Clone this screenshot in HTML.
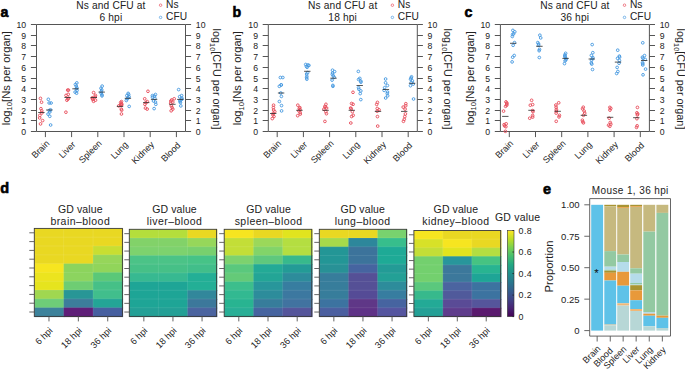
<!DOCTYPE html>
<html><head><meta charset="utf-8"><style>
html,body{margin:0;padding:0;background:#fff;width:685px;height:369px;overflow:hidden}
svg{display:block}
text{font-family:"Liberation Sans", sans-serif}
</style></head><body>
<svg width="685" height="369" viewBox="0 0 685 369">
<rect width="685" height="369" fill="#fff"/>
<g transform="translate(0,0)">
<text x="0.6" y="17.4" font-size="14.2" font-weight="bold" fill="#000" stroke="#000" stroke-width="0.6">a</text>
<text x="110.9" y="8.7" font-size="10.2" letter-spacing="0.15" text-anchor="middle" fill="#222">Ns and CFU at</text>
<text x="110.9" y="20.7" font-size="10.2" letter-spacing="0.15" text-anchor="middle" fill="#222">6 hpi</text>
<circle cx="160.6" cy="5.2" r="1.25" fill="none" stroke="#e8505e" stroke-width="0.7"/>
<circle cx="160.6" cy="17.4" r="1.25" fill="none" stroke="#4a9be0" stroke-width="0.7"/>
<text x="166.0" y="7.9" font-size="10.2" letter-spacing="0.1" fill="#222">Ns</text>
<text x="166.0" y="20.1" font-size="10.2" letter-spacing="0.1" fill="#222">CFU</text>
<path d="M36.5 24.5 V131.5 H185.5 V24.5 Z" fill="none" stroke="#555" stroke-width="1"/>
<path d="M30.9 131.5 H36.5 M185.5 131.5 H191.1 M30.9 120.5 H36.5 M185.5 120.5 H191.1 M30.9 110.5 H36.5 M185.5 110.5 H191.1 M30.9 99.5 H36.5 M185.5 99.5 H191.1 M30.9 88.5 H36.5 M185.5 88.5 H191.1 M30.9 78.5 H36.5 M185.5 78.5 H191.1 M30.9 67.5 H36.5 M185.5 67.5 H191.1 M30.9 56.5 H36.5 M185.5 56.5 H191.1 M30.9 45.5 H36.5 M185.5 45.5 H191.1 M30.9 35.5 H36.5 M185.5 35.5 H191.1 M30.9 24.5 H36.5 M185.5 24.5 H191.1 M45.4 131.5 V137.1 M71.6 131.5 V137.1 M97.8 131.5 V137.1 M124.0 131.5 V137.1 M150.2 131.5 V137.1 M176.4 131.5 V137.1" stroke="#555" stroke-width="1" fill="none"/>
<text x="26.2" y="134.9" font-size="8.7" text-anchor="end" fill="#222">0</text>
<text x="195.8" y="134.9" font-size="8.7" fill="#222">0</text>
<text x="26.2" y="123.9" font-size="8.7" text-anchor="end" fill="#222">1</text>
<text x="195.8" y="123.9" font-size="8.7" fill="#222">1</text>
<text x="26.2" y="113.9" font-size="8.7" text-anchor="end" fill="#222">2</text>
<text x="195.8" y="113.9" font-size="8.7" fill="#222">2</text>
<text x="26.2" y="102.9" font-size="8.7" text-anchor="end" fill="#222">3</text>
<text x="195.8" y="102.9" font-size="8.7" fill="#222">3</text>
<text x="26.2" y="91.9" font-size="8.7" text-anchor="end" fill="#222">4</text>
<text x="195.8" y="91.9" font-size="8.7" fill="#222">4</text>
<text x="26.2" y="81.9" font-size="8.7" text-anchor="end" fill="#222">5</text>
<text x="195.8" y="81.9" font-size="8.7" fill="#222">5</text>
<text x="26.2" y="70.9" font-size="8.7" text-anchor="end" fill="#222">6</text>
<text x="195.8" y="70.9" font-size="8.7" fill="#222">6</text>
<text x="26.2" y="59.9" font-size="8.7" text-anchor="end" fill="#222">7</text>
<text x="195.8" y="59.9" font-size="8.7" fill="#222">7</text>
<text x="26.2" y="48.9" font-size="8.7" text-anchor="end" fill="#222">8</text>
<text x="195.8" y="48.9" font-size="8.7" fill="#222">8</text>
<text x="26.2" y="38.9" font-size="8.7" text-anchor="end" fill="#222">9</text>
<text x="195.8" y="38.9" font-size="8.7" fill="#222">9</text>
<text x="26.2" y="27.9" font-size="8.7" text-anchor="end" fill="#222">10</text>
<text x="195.8" y="27.9" font-size="8.7" fill="#222">10</text>
<text transform="translate(50,144) rotate(-45)" font-size="9.0" text-anchor="end" fill="#222">Brain</text>
<text transform="translate(76.2,145) rotate(-45)" font-size="9.0" text-anchor="end" fill="#222">Liver</text>
<text transform="translate(102.4,144) rotate(-45)" font-size="9.0" text-anchor="end" fill="#222">Spleen</text>
<text transform="translate(128.6,145.3) rotate(-45)" font-size="9.0" text-anchor="end" fill="#222">Lung</text>
<text transform="translate(154.8,145) rotate(-45)" font-size="9.0" text-anchor="end" fill="#222">Kidney</text>
<text transform="translate(181,146) rotate(-45)" font-size="9.0" text-anchor="end" fill="#222">Blood</text>
<text transform="translate(9.6,78.2) rotate(-90)" font-size="11.2" text-anchor="middle" fill="#222">log<tspan font-size="7.6" dy="2.8">10</tspan><tspan dy="-2.8">[Ns per organ]</tspan></text>
<text transform="translate(212.6,79.0) rotate(90)" font-size="10.9" text-anchor="middle" fill="#222">log<tspan font-size="7.4" dy="2.8">10</tspan><tspan dy="-2.8">[CFU per organ]</tspan></text>
</g>
<g fill="none" stroke-width="0.95"><circle cx="40.46" cy="98.4" r="1.35" stroke="#e8505e"/><circle cx="41.56" cy="102.2" r="1.35" stroke="#e8505e"/><circle cx="40.93" cy="108.7" r="1.35" stroke="#e8505e"/><circle cx="41.77" cy="110.9" r="1.35" stroke="#e8505e"/><circle cx="41.85" cy="113" r="1.35" stroke="#e8505e"/><circle cx="39.84" cy="115.4" r="1.35" stroke="#e8505e"/><circle cx="39.65" cy="117.9" r="1.35" stroke="#e8505e"/><circle cx="42.61" cy="120.6" r="1.35" stroke="#e8505e"/><circle cx="40.53" cy="123.9" r="1.35" stroke="#e8505e"/><circle cx="48.34" cy="99.3" r="1.35" stroke="#4a9be0"/><circle cx="51.08" cy="103" r="1.35" stroke="#4a9be0"/><circle cx="49.19" cy="103" r="1.35" stroke="#4a9be0"/><circle cx="50.51" cy="109.8" r="1.35" stroke="#4a9be0"/><circle cx="49.21" cy="110.5" r="1.35" stroke="#4a9be0"/><circle cx="49.8" cy="112" r="1.35" stroke="#4a9be0"/><circle cx="48.04" cy="114.1" r="1.35" stroke="#4a9be0"/><circle cx="49.79" cy="116.3" r="1.35" stroke="#4a9be0"/><circle cx="50.62" cy="125" r="1.35" stroke="#4a9be0"/><circle cx="67.68" cy="90.1" r="1.35" stroke="#e8505e"/><circle cx="68.47" cy="90.1" r="1.35" stroke="#e8505e"/><circle cx="68.22" cy="94.3" r="1.35" stroke="#e8505e"/><circle cx="66.03" cy="95.4" r="1.35" stroke="#e8505e"/><circle cx="68.53" cy="98.1" r="1.35" stroke="#e8505e"/><circle cx="67.93" cy="99.1" r="1.35" stroke="#e8505e"/><circle cx="66.88" cy="100.2" r="1.35" stroke="#e8505e"/><circle cx="65.91" cy="112.2" r="1.35" stroke="#e8505e"/><circle cx="76.82" cy="82.9" r="1.35" stroke="#4a9be0"/><circle cx="75.4" cy="84.5" r="1.35" stroke="#4a9be0"/><circle cx="76.29" cy="86.1" r="1.35" stroke="#4a9be0"/><circle cx="76.86" cy="87.8" r="1.35" stroke="#4a9be0"/><circle cx="76.27" cy="88.8" r="1.35" stroke="#4a9be0"/><circle cx="77.02" cy="90.5" r="1.35" stroke="#4a9be0"/><circle cx="75.12" cy="92.1" r="1.35" stroke="#4a9be0"/><circle cx="76.58" cy="93.2" r="1.35" stroke="#4a9be0"/><circle cx="93.6" cy="92.6" r="1.35" stroke="#e8505e"/><circle cx="95.37" cy="95.4" r="1.35" stroke="#e8505e"/><circle cx="95.16" cy="97" r="1.35" stroke="#e8505e"/><circle cx="92.35" cy="97.8" r="1.35" stroke="#e8505e"/><circle cx="92.49" cy="98.6" r="1.35" stroke="#e8505e"/><circle cx="92.78" cy="99.5" r="1.35" stroke="#e8505e"/><circle cx="95.48" cy="100.2" r="1.35" stroke="#e8505e"/><circle cx="93.57" cy="101.3" r="1.35" stroke="#e8505e"/><circle cx="102.16" cy="86.1" r="1.35" stroke="#4a9be0"/><circle cx="100.98" cy="88.3" r="1.35" stroke="#4a9be0"/><circle cx="101.73" cy="89.9" r="1.35" stroke="#4a9be0"/><circle cx="101.29" cy="91.6" r="1.35" stroke="#4a9be0"/><circle cx="101.16" cy="93.2" r="1.35" stroke="#4a9be0"/><circle cx="102.01" cy="94.8" r="1.35" stroke="#4a9be0"/><circle cx="102" cy="95.9" r="1.35" stroke="#4a9be0"/><circle cx="121.46" cy="101.6" r="1.35" stroke="#e8505e"/><circle cx="120.66" cy="102.6" r="1.35" stroke="#e8505e"/><circle cx="121.54" cy="103.7" r="1.35" stroke="#e8505e"/><circle cx="121.28" cy="104.8" r="1.35" stroke="#e8505e"/><circle cx="121.77" cy="104.8" r="1.35" stroke="#e8505e"/><circle cx="120.62" cy="104.8" r="1.35" stroke="#e8505e"/><circle cx="118.79" cy="105.9" r="1.35" stroke="#e8505e"/><circle cx="121.3" cy="109.1" r="1.35" stroke="#e8505e"/><circle cx="121.67" cy="110.2" r="1.35" stroke="#e8505e"/><circle cx="121.46" cy="114" r="1.35" stroke="#e8505e"/><circle cx="128.15" cy="93.4" r="1.35" stroke="#4a9be0"/><circle cx="128.67" cy="94.5" r="1.35" stroke="#4a9be0"/><circle cx="126.86" cy="95.6" r="1.35" stroke="#4a9be0"/><circle cx="129.09" cy="96.7" r="1.35" stroke="#4a9be0"/><circle cx="128.16" cy="97.8" r="1.35" stroke="#4a9be0"/><circle cx="127.13" cy="98.8" r="1.35" stroke="#4a9be0"/><circle cx="126.33" cy="100.5" r="1.35" stroke="#4a9be0"/><circle cx="129.17" cy="106.4" r="1.35" stroke="#4a9be0"/><circle cx="147.96" cy="91.3" r="1.35" stroke="#e8505e"/><circle cx="144.72" cy="98.8" r="1.35" stroke="#e8505e"/><circle cx="147.28" cy="101.6" r="1.35" stroke="#e8505e"/><circle cx="145.88" cy="102.6" r="1.35" stroke="#e8505e"/><circle cx="144.94" cy="104.3" r="1.35" stroke="#e8505e"/><circle cx="145.46" cy="108.1" r="1.35" stroke="#e8505e"/><circle cx="147.17" cy="109.1" r="1.35" stroke="#e8505e"/><circle cx="155.44" cy="94.5" r="1.35" stroke="#4a9be0"/><circle cx="152.46" cy="95.6" r="1.35" stroke="#4a9be0"/><circle cx="154.51" cy="96.1" r="1.35" stroke="#4a9be0"/><circle cx="152.46" cy="97.2" r="1.35" stroke="#4a9be0"/><circle cx="154.89" cy="98.3" r="1.35" stroke="#4a9be0"/><circle cx="153.49" cy="101" r="1.35" stroke="#4a9be0"/><circle cx="155.47" cy="102.1" r="1.35" stroke="#4a9be0"/><circle cx="155.83" cy="104.3" r="1.35" stroke="#4a9be0"/><circle cx="154.12" cy="108.6" r="1.35" stroke="#4a9be0"/><circle cx="174.19" cy="98.8" r="1.35" stroke="#e8505e"/><circle cx="171.71" cy="99.9" r="1.35" stroke="#e8505e"/><circle cx="170.88" cy="101" r="1.35" stroke="#e8505e"/><circle cx="172.76" cy="102.1" r="1.35" stroke="#e8505e"/><circle cx="170.71" cy="103.2" r="1.35" stroke="#e8505e"/><circle cx="171.31" cy="105.9" r="1.35" stroke="#e8505e"/><circle cx="172.07" cy="107.5" r="1.35" stroke="#e8505e"/><circle cx="172.8" cy="109.1" r="1.35" stroke="#e8505e"/><circle cx="171.16" cy="110.8" r="1.35" stroke="#e8505e"/><circle cx="178.65" cy="89.6" r="1.35" stroke="#4a9be0"/><circle cx="181.62" cy="95.6" r="1.35" stroke="#4a9be0"/><circle cx="179.63" cy="96.7" r="1.35" stroke="#4a9be0"/><circle cx="181.95" cy="98.3" r="1.35" stroke="#4a9be0"/><circle cx="181.73" cy="99.4" r="1.35" stroke="#4a9be0"/><circle cx="179.86" cy="100.5" r="1.35" stroke="#4a9be0"/><circle cx="180.16" cy="101.5" r="1.35" stroke="#4a9be0"/><circle cx="180.37" cy="102.6" r="1.35" stroke="#4a9be0"/><circle cx="180.82" cy="105.9" r="1.35" stroke="#4a9be0"/></g>
<path d="M38.2 112.5 H44.6 M46.1 110 H52.5 M64.4 97.5 H70.8 M72.3 88.8 H78.7 M90.6 97.5 H97 M98.5 92.1 H104.9 M116.8 106.4 H123.2 M124.7 98.3 H131.1 M143 102.6 H149.4 M150.9 99.4 H157.3 M169.2 104.3 H175.6 M177.1 99.4 H183.5" stroke="#2a2a2a" stroke-width="0.8" fill="none"/>
<g transform="translate(231.8,0)">
<text x="0.6" y="17.4" font-size="14.2" font-weight="bold" fill="#000" stroke="#000" stroke-width="0.6">b</text>
<text x="110.9" y="8.7" font-size="10.2" letter-spacing="0.15" text-anchor="middle" fill="#222">Ns and CFU at</text>
<text x="110.9" y="20.7" font-size="10.2" letter-spacing="0.15" text-anchor="middle" fill="#222">18 hpi</text>
<circle cx="160.6" cy="5.2" r="1.25" fill="none" stroke="#e8505e" stroke-width="0.7"/>
<circle cx="160.6" cy="17.4" r="1.25" fill="none" stroke="#4a9be0" stroke-width="0.7"/>
<text x="166.0" y="7.9" font-size="10.2" letter-spacing="0.1" fill="#222">Ns</text>
<text x="166.0" y="20.1" font-size="10.2" letter-spacing="0.1" fill="#222">CFU</text>
<path d="M36.5 24.5 V131.5 H185.5 V24.5 Z" fill="none" stroke="#555" stroke-width="1"/>
<path d="M30.9 131.5 H36.5 M185.5 131.5 H191.1 M30.9 120.5 H36.5 M185.5 120.5 H191.1 M30.9 110.5 H36.5 M185.5 110.5 H191.1 M30.9 99.5 H36.5 M185.5 99.5 H191.1 M30.9 88.5 H36.5 M185.5 88.5 H191.1 M30.9 78.5 H36.5 M185.5 78.5 H191.1 M30.9 67.5 H36.5 M185.5 67.5 H191.1 M30.9 56.5 H36.5 M185.5 56.5 H191.1 M30.9 45.5 H36.5 M185.5 45.5 H191.1 M30.9 35.5 H36.5 M185.5 35.5 H191.1 M30.9 24.5 H36.5 M185.5 24.5 H191.1 M45.4 131.5 V137.1 M71.6 131.5 V137.1 M97.8 131.5 V137.1 M124.0 131.5 V137.1 M150.2 131.5 V137.1 M176.4 131.5 V137.1" stroke="#555" stroke-width="1" fill="none"/>
<text x="26.2" y="134.9" font-size="8.7" text-anchor="end" fill="#222">0</text>
<text x="195.8" y="134.9" font-size="8.7" fill="#222">0</text>
<text x="26.2" y="123.9" font-size="8.7" text-anchor="end" fill="#222">1</text>
<text x="195.8" y="123.9" font-size="8.7" fill="#222">1</text>
<text x="26.2" y="113.9" font-size="8.7" text-anchor="end" fill="#222">2</text>
<text x="195.8" y="113.9" font-size="8.7" fill="#222">2</text>
<text x="26.2" y="102.9" font-size="8.7" text-anchor="end" fill="#222">3</text>
<text x="195.8" y="102.9" font-size="8.7" fill="#222">3</text>
<text x="26.2" y="91.9" font-size="8.7" text-anchor="end" fill="#222">4</text>
<text x="195.8" y="91.9" font-size="8.7" fill="#222">4</text>
<text x="26.2" y="81.9" font-size="8.7" text-anchor="end" fill="#222">5</text>
<text x="195.8" y="81.9" font-size="8.7" fill="#222">5</text>
<text x="26.2" y="70.9" font-size="8.7" text-anchor="end" fill="#222">6</text>
<text x="195.8" y="70.9" font-size="8.7" fill="#222">6</text>
<text x="26.2" y="59.9" font-size="8.7" text-anchor="end" fill="#222">7</text>
<text x="195.8" y="59.9" font-size="8.7" fill="#222">7</text>
<text x="26.2" y="48.9" font-size="8.7" text-anchor="end" fill="#222">8</text>
<text x="195.8" y="48.9" font-size="8.7" fill="#222">8</text>
<text x="26.2" y="38.9" font-size="8.7" text-anchor="end" fill="#222">9</text>
<text x="195.8" y="38.9" font-size="8.7" fill="#222">9</text>
<text x="26.2" y="27.9" font-size="8.7" text-anchor="end" fill="#222">10</text>
<text x="195.8" y="27.9" font-size="8.7" fill="#222">10</text>
<text transform="translate(50,144) rotate(-45)" font-size="9.0" text-anchor="end" fill="#222">Brain</text>
<text transform="translate(76.2,145) rotate(-45)" font-size="9.0" text-anchor="end" fill="#222">Liver</text>
<text transform="translate(102.4,144) rotate(-45)" font-size="9.0" text-anchor="end" fill="#222">Spleen</text>
<text transform="translate(128.6,145.3) rotate(-45)" font-size="9.0" text-anchor="end" fill="#222">Lung</text>
<text transform="translate(154.8,145) rotate(-45)" font-size="9.0" text-anchor="end" fill="#222">Kidney</text>
<text transform="translate(181,146) rotate(-45)" font-size="9.0" text-anchor="end" fill="#222">Blood</text>
<text transform="translate(9.6,78.2) rotate(-90)" font-size="11.2" text-anchor="middle" fill="#222">log<tspan font-size="7.6" dy="2.8">10</tspan><tspan dy="-2.8">[Ns per organ]</tspan></text>
<text transform="translate(212.6,79.0) rotate(90)" font-size="10.9" text-anchor="middle" fill="#222">log<tspan font-size="7.4" dy="2.8">10</tspan><tspan dy="-2.8">[CFU per organ]</tspan></text>
</g>
<g fill="none" stroke-width="0.95"><circle cx="273.54" cy="105.2" r="1.35" stroke="#e8505e"/><circle cx="273.41" cy="107.6" r="1.35" stroke="#e8505e"/><circle cx="273.63" cy="110" r="1.35" stroke="#e8505e"/><circle cx="274.79" cy="111.7" r="1.35" stroke="#e8505e"/><circle cx="273.23" cy="113.3" r="1.35" stroke="#e8505e"/><circle cx="272.95" cy="114.9" r="1.35" stroke="#e8505e"/><circle cx="273.99" cy="116.5" r="1.35" stroke="#e8505e"/><circle cx="272.26" cy="118.6" r="1.35" stroke="#e8505e"/><circle cx="280.38" cy="77.5" r="1.35" stroke="#4a9be0"/><circle cx="282.82" cy="77.5" r="1.35" stroke="#4a9be0"/><circle cx="281.18" cy="84.9" r="1.35" stroke="#4a9be0"/><circle cx="281.27" cy="84.9" r="1.35" stroke="#4a9be0"/><circle cx="279.34" cy="86.3" r="1.35" stroke="#4a9be0"/><circle cx="280.79" cy="93" r="1.35" stroke="#4a9be0"/><circle cx="281.39" cy="96.4" r="1.35" stroke="#4a9be0"/><circle cx="279.37" cy="101.5" r="1.35" stroke="#4a9be0"/><circle cx="281.52" cy="105.6" r="1.35" stroke="#4a9be0"/><circle cx="281.58" cy="110.9" r="1.35" stroke="#4a9be0"/><circle cx="297.82" cy="105.2" r="1.35" stroke="#e8505e"/><circle cx="299.86" cy="107.6" r="1.35" stroke="#e8505e"/><circle cx="299.28" cy="108.4" r="1.35" stroke="#e8505e"/><circle cx="300.05" cy="109.6" r="1.35" stroke="#e8505e"/><circle cx="298.87" cy="110.9" r="1.35" stroke="#e8505e"/><circle cx="300.15" cy="112.5" r="1.35" stroke="#e8505e"/><circle cx="300.26" cy="114.1" r="1.35" stroke="#e8505e"/><circle cx="297.68" cy="115.7" r="1.35" stroke="#e8505e"/><circle cx="305.72" cy="64.5" r="1.35" stroke="#4a9be0"/><circle cx="307.93" cy="65" r="1.35" stroke="#4a9be0"/><circle cx="308.97" cy="65.4" r="1.35" stroke="#4a9be0"/><circle cx="306.4" cy="66.4" r="1.35" stroke="#4a9be0"/><circle cx="307.14" cy="67.3" r="1.35" stroke="#4a9be0"/><circle cx="307.63" cy="72.6" r="1.35" stroke="#4a9be0"/><circle cx="306.65" cy="74" r="1.35" stroke="#4a9be0"/><circle cx="306.81" cy="76.3" r="1.35" stroke="#4a9be0"/><circle cx="306.63" cy="77.8" r="1.35" stroke="#4a9be0"/><circle cx="306.83" cy="79.2" r="1.35" stroke="#4a9be0"/><circle cx="325.94" cy="104.3" r="1.35" stroke="#e8505e"/><circle cx="324.88" cy="106.4" r="1.35" stroke="#e8505e"/><circle cx="325.16" cy="107.2" r="1.35" stroke="#e8505e"/><circle cx="326.58" cy="108" r="1.35" stroke="#e8505e"/><circle cx="323.9" cy="109.2" r="1.35" stroke="#e8505e"/><circle cx="325.85" cy="111.7" r="1.35" stroke="#e8505e"/><circle cx="326.45" cy="113.7" r="1.35" stroke="#e8505e"/><circle cx="324.92" cy="121.4" r="1.35" stroke="#e8505e"/><circle cx="332.5" cy="70.2" r="1.35" stroke="#4a9be0"/><circle cx="334.59" cy="71.6" r="1.35" stroke="#4a9be0"/><circle cx="332.56" cy="73" r="1.35" stroke="#4a9be0"/><circle cx="332.37" cy="74.4" r="1.35" stroke="#4a9be0"/><circle cx="333.27" cy="75.9" r="1.35" stroke="#4a9be0"/><circle cx="334.21" cy="77.3" r="1.35" stroke="#4a9be0"/><circle cx="332.07" cy="80.1" r="1.35" stroke="#4a9be0"/><circle cx="332.86" cy="85.4" r="1.35" stroke="#4a9be0"/><circle cx="332.9" cy="86.3" r="1.35" stroke="#4a9be0"/><circle cx="353" cy="92.3" r="1.35" stroke="#e8505e"/><circle cx="351.58" cy="103.5" r="1.35" stroke="#e8505e"/><circle cx="353.08" cy="104.3" r="1.35" stroke="#e8505e"/><circle cx="350.61" cy="108" r="1.35" stroke="#e8505e"/><circle cx="351.21" cy="108.8" r="1.35" stroke="#e8505e"/><circle cx="352.34" cy="111.7" r="1.35" stroke="#e8505e"/><circle cx="353.19" cy="115.3" r="1.35" stroke="#e8505e"/><circle cx="351.62" cy="116.5" r="1.35" stroke="#e8505e"/><circle cx="350.81" cy="123" r="1.35" stroke="#e8505e"/><circle cx="358.34" cy="71.4" r="1.35" stroke="#4a9be0"/><circle cx="359.81" cy="78.4" r="1.35" stroke="#4a9be0"/><circle cx="358.59" cy="79.5" r="1.35" stroke="#4a9be0"/><circle cx="360.8" cy="81.1" r="1.35" stroke="#4a9be0"/><circle cx="360.92" cy="82.2" r="1.35" stroke="#4a9be0"/><circle cx="358.56" cy="87.7" r="1.35" stroke="#4a9be0"/><circle cx="358.9" cy="89.3" r="1.35" stroke="#4a9be0"/><circle cx="360.81" cy="90.9" r="1.35" stroke="#4a9be0"/><circle cx="360.21" cy="93.6" r="1.35" stroke="#4a9be0"/><circle cx="360.8" cy="99.6" r="1.35" stroke="#4a9be0"/><circle cx="377.44" cy="102.4" r="1.35" stroke="#e8505e"/><circle cx="376.67" cy="104.4" r="1.35" stroke="#e8505e"/><circle cx="377.25" cy="108.5" r="1.35" stroke="#e8505e"/><circle cx="379.06" cy="109.8" r="1.35" stroke="#e8505e"/><circle cx="377.18" cy="111.2" r="1.35" stroke="#e8505e"/><circle cx="377.45" cy="116.6" r="1.35" stroke="#e8505e"/><circle cx="377.7" cy="126.1" r="1.35" stroke="#e8505e"/><circle cx="385.61" cy="79" r="1.35" stroke="#4a9be0"/><circle cx="385.57" cy="82.8" r="1.35" stroke="#4a9be0"/><circle cx="387.41" cy="85.5" r="1.35" stroke="#4a9be0"/><circle cx="384.66" cy="87.7" r="1.35" stroke="#4a9be0"/><circle cx="384.12" cy="90.4" r="1.35" stroke="#4a9be0"/><circle cx="387.5" cy="92" r="1.35" stroke="#4a9be0"/><circle cx="387.27" cy="93.6" r="1.35" stroke="#4a9be0"/><circle cx="387.65" cy="95.8" r="1.35" stroke="#4a9be0"/><circle cx="385.66" cy="98" r="1.35" stroke="#4a9be0"/><circle cx="405.82" cy="103.7" r="1.35" stroke="#e8505e"/><circle cx="405.74" cy="105.7" r="1.35" stroke="#e8505e"/><circle cx="403.2" cy="107.1" r="1.35" stroke="#e8505e"/><circle cx="405.08" cy="109.1" r="1.35" stroke="#e8505e"/><circle cx="405.41" cy="113.9" r="1.35" stroke="#e8505e"/><circle cx="404.79" cy="116.6" r="1.35" stroke="#e8505e"/><circle cx="404.27" cy="119.3" r="1.35" stroke="#e8505e"/><circle cx="403.44" cy="121.3" r="1.35" stroke="#e8505e"/><circle cx="411.53" cy="76.8" r="1.35" stroke="#4a9be0"/><circle cx="411.12" cy="78" r="1.35" stroke="#4a9be0"/><circle cx="410.55" cy="79.2" r="1.35" stroke="#4a9be0"/><circle cx="412.42" cy="80.9" r="1.35" stroke="#4a9be0"/><circle cx="411.33" cy="82.5" r="1.35" stroke="#4a9be0"/><circle cx="413.22" cy="84.1" r="1.35" stroke="#4a9be0"/><circle cx="410.46" cy="85.7" r="1.35" stroke="#4a9be0"/><circle cx="413.55" cy="99" r="1.35" stroke="#4a9be0"/></g>
<path d="M270 113.5 H276.4 M277.9 93 H284.3 M296.2 110.3 H302.6 M304.1 71.3 H310.5 M322.4 110.3 H328.8 M330.3 78.2 H336.7 M348.6 110.3 H355 M356.5 85.5 H362.9 M374.8 111.4 H381.2 M382.7 89.5 H389.1 M401 111.4 H407.4 M408.9 83.3 H415.3" stroke="#2a2a2a" stroke-width="0.8" fill="none"/>
<g transform="translate(463.9,0)">
<text x="0.6" y="17.4" font-size="14.2" font-weight="bold" fill="#000" stroke="#000" stroke-width="0.6">c</text>
<text x="110.9" y="8.7" font-size="10.2" letter-spacing="0.15" text-anchor="middle" fill="#222">Ns and CFU at</text>
<text x="110.9" y="20.7" font-size="10.2" letter-spacing="0.15" text-anchor="middle" fill="#222">36 hpi</text>
<circle cx="160.6" cy="5.2" r="1.25" fill="none" stroke="#e8505e" stroke-width="0.7"/>
<circle cx="160.6" cy="17.4" r="1.25" fill="none" stroke="#4a9be0" stroke-width="0.7"/>
<text x="166.0" y="7.9" font-size="10.2" letter-spacing="0.1" fill="#222">Ns</text>
<text x="166.0" y="20.1" font-size="10.2" letter-spacing="0.1" fill="#222">CFU</text>
<path d="M36.5 24.5 V131.5 H185.5 V24.5 Z" fill="none" stroke="#555" stroke-width="1"/>
<path d="M30.9 131.5 H36.5 M185.5 131.5 H191.1 M30.9 120.5 H36.5 M185.5 120.5 H191.1 M30.9 110.5 H36.5 M185.5 110.5 H191.1 M30.9 99.5 H36.5 M185.5 99.5 H191.1 M30.9 88.5 H36.5 M185.5 88.5 H191.1 M30.9 78.5 H36.5 M185.5 78.5 H191.1 M30.9 67.5 H36.5 M185.5 67.5 H191.1 M30.9 56.5 H36.5 M185.5 56.5 H191.1 M30.9 45.5 H36.5 M185.5 45.5 H191.1 M30.9 35.5 H36.5 M185.5 35.5 H191.1 M30.9 24.5 H36.5 M185.5 24.5 H191.1 M45.4 131.5 V137.1 M71.6 131.5 V137.1 M97.8 131.5 V137.1 M124.0 131.5 V137.1 M150.2 131.5 V137.1 M176.4 131.5 V137.1" stroke="#555" stroke-width="1" fill="none"/>
<text x="26.2" y="134.9" font-size="8.7" text-anchor="end" fill="#222">0</text>
<text x="195.8" y="134.9" font-size="8.7" fill="#222">0</text>
<text x="26.2" y="123.9" font-size="8.7" text-anchor="end" fill="#222">1</text>
<text x="195.8" y="123.9" font-size="8.7" fill="#222">1</text>
<text x="26.2" y="113.9" font-size="8.7" text-anchor="end" fill="#222">2</text>
<text x="195.8" y="113.9" font-size="8.7" fill="#222">2</text>
<text x="26.2" y="102.9" font-size="8.7" text-anchor="end" fill="#222">3</text>
<text x="195.8" y="102.9" font-size="8.7" fill="#222">3</text>
<text x="26.2" y="91.9" font-size="8.7" text-anchor="end" fill="#222">4</text>
<text x="195.8" y="91.9" font-size="8.7" fill="#222">4</text>
<text x="26.2" y="81.9" font-size="8.7" text-anchor="end" fill="#222">5</text>
<text x="195.8" y="81.9" font-size="8.7" fill="#222">5</text>
<text x="26.2" y="70.9" font-size="8.7" text-anchor="end" fill="#222">6</text>
<text x="195.8" y="70.9" font-size="8.7" fill="#222">6</text>
<text x="26.2" y="59.9" font-size="8.7" text-anchor="end" fill="#222">7</text>
<text x="195.8" y="59.9" font-size="8.7" fill="#222">7</text>
<text x="26.2" y="48.9" font-size="8.7" text-anchor="end" fill="#222">8</text>
<text x="195.8" y="48.9" font-size="8.7" fill="#222">8</text>
<text x="26.2" y="38.9" font-size="8.7" text-anchor="end" fill="#222">9</text>
<text x="195.8" y="38.9" font-size="8.7" fill="#222">9</text>
<text x="26.2" y="27.9" font-size="8.7" text-anchor="end" fill="#222">10</text>
<text x="195.8" y="27.9" font-size="8.7" fill="#222">10</text>
<text transform="translate(50,144) rotate(-45)" font-size="9.0" text-anchor="end" fill="#222">Brain</text>
<text transform="translate(76.2,145) rotate(-45)" font-size="9.0" text-anchor="end" fill="#222">Liver</text>
<text transform="translate(102.4,144) rotate(-45)" font-size="9.0" text-anchor="end" fill="#222">Spleen</text>
<text transform="translate(128.6,145.3) rotate(-45)" font-size="9.0" text-anchor="end" fill="#222">Lung</text>
<text transform="translate(154.8,145) rotate(-45)" font-size="9.0" text-anchor="end" fill="#222">Kidney</text>
<text transform="translate(181,146) rotate(-45)" font-size="9.0" text-anchor="end" fill="#222">Blood</text>
<text transform="translate(9.6,78.2) rotate(-90)" font-size="11.2" text-anchor="middle" fill="#222">log<tspan font-size="7.6" dy="2.8">10</tspan><tspan dy="-2.8">[Ns per organ]</tspan></text>
<text transform="translate(212.6,79.0) rotate(90)" font-size="10.9" text-anchor="middle" fill="#222">log<tspan font-size="7.4" dy="2.8">10</tspan><tspan dy="-2.8">[CFU per organ]</tspan></text>
</g>
<g fill="none" stroke-width="0.95"><circle cx="506" cy="101.9" r="1.35" stroke="#e8505e"/><circle cx="506.83" cy="103" r="1.35" stroke="#e8505e"/><circle cx="506.73" cy="104.1" r="1.35" stroke="#e8505e"/><circle cx="506.74" cy="105.2" r="1.35" stroke="#e8505e"/><circle cx="505.58" cy="106.3" r="1.35" stroke="#e8505e"/><circle cx="503.55" cy="111.1" r="1.35" stroke="#e8505e"/><circle cx="506.18" cy="123.8" r="1.35" stroke="#e8505e"/><circle cx="504.12" cy="124.6" r="1.35" stroke="#e8505e"/><circle cx="504.58" cy="125.9" r="1.35" stroke="#e8505e"/><circle cx="505.89" cy="126.7" r="1.35" stroke="#e8505e"/><circle cx="505.39" cy="131.3" r="1.35" stroke="#e8505e"/><circle cx="512.89" cy="30.4" r="1.35" stroke="#4a9be0"/><circle cx="514.78" cy="31.8" r="1.35" stroke="#4a9be0"/><circle cx="513.6" cy="33.8" r="1.35" stroke="#4a9be0"/><circle cx="512.63" cy="34.5" r="1.35" stroke="#4a9be0"/><circle cx="512.31" cy="36.5" r="1.35" stroke="#4a9be0"/><circle cx="514.5" cy="42.6" r="1.35" stroke="#4a9be0"/><circle cx="513.12" cy="45.3" r="1.35" stroke="#4a9be0"/><circle cx="514.22" cy="55.5" r="1.35" stroke="#4a9be0"/><circle cx="512.67" cy="57.2" r="1.35" stroke="#4a9be0"/><circle cx="512.11" cy="61.9" r="1.35" stroke="#4a9be0"/><circle cx="531.62" cy="100.3" r="1.35" stroke="#e8505e"/><circle cx="532.64" cy="104.6" r="1.35" stroke="#e8505e"/><circle cx="530.32" cy="105.2" r="1.35" stroke="#e8505e"/><circle cx="532.55" cy="110.6" r="1.35" stroke="#e8505e"/><circle cx="533.02" cy="111.7" r="1.35" stroke="#e8505e"/><circle cx="532.6" cy="115.5" r="1.35" stroke="#e8505e"/><circle cx="532.66" cy="117.1" r="1.35" stroke="#e8505e"/><circle cx="529.73" cy="118.2" r="1.35" stroke="#e8505e"/><circle cx="539.86" cy="35.2" r="1.35" stroke="#4a9be0"/><circle cx="540.71" cy="37.9" r="1.35" stroke="#4a9be0"/><circle cx="537.78" cy="42.6" r="1.35" stroke="#4a9be0"/><circle cx="538.58" cy="44" r="1.35" stroke="#4a9be0"/><circle cx="538.57" cy="45.3" r="1.35" stroke="#4a9be0"/><circle cx="539.5" cy="49.4" r="1.35" stroke="#4a9be0"/><circle cx="539.12" cy="50.7" r="1.35" stroke="#4a9be0"/><circle cx="539.3" cy="57.5" r="1.35" stroke="#4a9be0"/><circle cx="558.7" cy="102.8" r="1.35" stroke="#e8505e"/><circle cx="555.91" cy="105" r="1.35" stroke="#e8505e"/><circle cx="556.1" cy="107.2" r="1.35" stroke="#e8505e"/><circle cx="556.36" cy="109.4" r="1.35" stroke="#e8505e"/><circle cx="556.35" cy="111" r="1.35" stroke="#e8505e"/><circle cx="556.15" cy="113.1" r="1.35" stroke="#e8505e"/><circle cx="559.41" cy="115.3" r="1.35" stroke="#e8505e"/><circle cx="558.98" cy="116.9" r="1.35" stroke="#e8505e"/><circle cx="556.21" cy="121.3" r="1.35" stroke="#e8505e"/><circle cx="565.61" cy="53.3" r="1.35" stroke="#4a9be0"/><circle cx="564.94" cy="54.9" r="1.35" stroke="#4a9be0"/><circle cx="564.93" cy="56" r="1.35" stroke="#4a9be0"/><circle cx="565.06" cy="57" r="1.35" stroke="#4a9be0"/><circle cx="566.13" cy="58.7" r="1.35" stroke="#4a9be0"/><circle cx="565.91" cy="59.8" r="1.35" stroke="#4a9be0"/><circle cx="565.1" cy="60.8" r="1.35" stroke="#4a9be0"/><circle cx="564.49" cy="63.6" r="1.35" stroke="#4a9be0"/><circle cx="583.28" cy="107.2" r="1.35" stroke="#e8505e"/><circle cx="582.55" cy="108.8" r="1.35" stroke="#e8505e"/><circle cx="584.1" cy="111" r="1.35" stroke="#e8505e"/><circle cx="584.68" cy="113.1" r="1.35" stroke="#e8505e"/><circle cx="583.47" cy="115.3" r="1.35" stroke="#e8505e"/><circle cx="582.39" cy="120.2" r="1.35" stroke="#e8505e"/><circle cx="582.74" cy="121.8" r="1.35" stroke="#e8505e"/><circle cx="583.44" cy="122.9" r="1.35" stroke="#e8505e"/><circle cx="592.18" cy="44.6" r="1.35" stroke="#4a9be0"/><circle cx="592.82" cy="52.7" r="1.35" stroke="#4a9be0"/><circle cx="591.37" cy="55.4" r="1.35" stroke="#4a9be0"/><circle cx="592.88" cy="57.6" r="1.35" stroke="#4a9be0"/><circle cx="592.24" cy="58.7" r="1.35" stroke="#4a9be0"/><circle cx="591.55" cy="60.3" r="1.35" stroke="#4a9be0"/><circle cx="591.34" cy="63" r="1.35" stroke="#4a9be0"/><circle cx="591.79" cy="64.1" r="1.35" stroke="#4a9be0"/><circle cx="592.53" cy="69.5" r="1.35" stroke="#4a9be0"/><circle cx="609.81" cy="107.4" r="1.35" stroke="#e8505e"/><circle cx="610.8" cy="108.4" r="1.35" stroke="#e8505e"/><circle cx="609.96" cy="110.1" r="1.35" stroke="#e8505e"/><circle cx="609.18" cy="118.2" r="1.35" stroke="#e8505e"/><circle cx="610.23" cy="122.5" r="1.35" stroke="#e8505e"/><circle cx="610.8" cy="124.2" r="1.35" stroke="#e8505e"/><circle cx="608.56" cy="125.2" r="1.35" stroke="#e8505e"/><circle cx="609.83" cy="126.3" r="1.35" stroke="#e8505e"/><circle cx="617.73" cy="50.2" r="1.35" stroke="#4a9be0"/><circle cx="619.37" cy="56.1" r="1.35" stroke="#4a9be0"/><circle cx="619.57" cy="57.2" r="1.35" stroke="#4a9be0"/><circle cx="617.55" cy="58.3" r="1.35" stroke="#4a9be0"/><circle cx="619.43" cy="60.5" r="1.35" stroke="#4a9be0"/><circle cx="619.05" cy="63.2" r="1.35" stroke="#4a9be0"/><circle cx="617.14" cy="67.4" r="1.35" stroke="#4a9be0"/><circle cx="617.87" cy="71.5" r="1.35" stroke="#4a9be0"/><circle cx="616.64" cy="73.5" r="1.35" stroke="#4a9be0"/><circle cx="637.43" cy="107.4" r="1.35" stroke="#e8505e"/><circle cx="636.88" cy="112.8" r="1.35" stroke="#e8505e"/><circle cx="637.69" cy="113.9" r="1.35" stroke="#e8505e"/><circle cx="637.35" cy="114.9" r="1.35" stroke="#e8505e"/><circle cx="636.9" cy="118.7" r="1.35" stroke="#e8505e"/><circle cx="637.14" cy="125.8" r="1.35" stroke="#e8505e"/><circle cx="636.53" cy="127.4" r="1.35" stroke="#e8505e"/><circle cx="642.77" cy="42.8" r="1.35" stroke="#4a9be0"/><circle cx="644.52" cy="55.6" r="1.35" stroke="#4a9be0"/><circle cx="642.42" cy="57.2" r="1.35" stroke="#4a9be0"/><circle cx="642.92" cy="58.3" r="1.35" stroke="#4a9be0"/><circle cx="645.19" cy="59.4" r="1.35" stroke="#4a9be0"/><circle cx="642.56" cy="62.7" r="1.35" stroke="#4a9be0"/><circle cx="642.73" cy="63.7" r="1.35" stroke="#4a9be0"/><circle cx="642.76" cy="65" r="1.35" stroke="#4a9be0"/><circle cx="645.57" cy="69.1" r="1.35" stroke="#4a9be0"/><circle cx="643.04" cy="74.8" r="1.35" stroke="#4a9be0"/></g>
<path d="M502.1 116.4 H508.5 M510 43.3 H516.4 M528.3 110.3 H534.7 M536.2 46.3 H542.6 M554.5 111.3 H560.9 M562.4 58.4 H568.8 M580.7 115.3 H587.1 M588.6 59 H595 M606.9 117.3 H613.3 M614.8 62.1 H621.2 M633.1 117.7 H639.5 M641 60.5 H647.4" stroke="#2a2a2a" stroke-width="0.8" fill="none"/>
<text x="0.2" y="193.2" font-size="14.5" font-weight="bold" fill="#000" stroke="#000" stroke-width="0.6">d</text>
<text x="80.3" y="212.9" font-size="10.5" letter-spacing="0.1" text-anchor="middle" fill="#222">GD value</text>
<text x="80.3" y="224.8" font-size="10.5" letter-spacing="0.45" text-anchor="middle" fill="#222">brain–blood</text>
<g><rect x="34.3" y="228.4" width="30.07" height="9.5" fill="#e9d822"/><rect x="63.67" y="228.4" width="30.07" height="9.5" fill="#e9d822"/><rect x="93.03" y="228.4" width="30.07" height="9.5" fill="#e9d822"/><rect x="34.3" y="237.2" width="30.07" height="9.5" fill="#e9d822"/><rect x="63.67" y="237.2" width="30.07" height="9.5" fill="#e9d822"/><rect x="93.03" y="237.2" width="30.07" height="9.5" fill="#e9d822"/><rect x="34.3" y="246" width="30.07" height="9.5" fill="#e9d822"/><rect x="63.67" y="246" width="30.07" height="9.5" fill="#e9d822"/><rect x="93.03" y="246" width="30.07" height="9.5" fill="#c8de32"/><rect x="34.3" y="254.8" width="30.07" height="9.5" fill="#e9d822"/><rect x="63.67" y="254.8" width="30.07" height="9.5" fill="#e9d822"/><rect x="93.03" y="254.8" width="30.07" height="9.5" fill="#96d65a"/><rect x="34.3" y="263.6" width="30.07" height="9.5" fill="#f6e520"/><rect x="63.67" y="263.6" width="30.07" height="9.5" fill="#8cd45c"/><rect x="93.03" y="263.6" width="30.07" height="9.5" fill="#91d55a"/><rect x="34.3" y="272.4" width="30.07" height="9.5" fill="#ece41e"/><rect x="63.67" y="272.4" width="30.07" height="9.5" fill="#8cd45f"/><rect x="93.03" y="272.4" width="30.07" height="9.5" fill="#5ac878"/><rect x="34.3" y="281.2" width="30.07" height="9.5" fill="#e6e41e"/><rect x="63.67" y="281.2" width="30.07" height="9.5" fill="#6ecd73"/><rect x="93.03" y="281.2" width="30.07" height="9.5" fill="#46c087"/><rect x="34.3" y="290" width="30.07" height="9.5" fill="#a0d750"/><rect x="63.67" y="290" width="30.07" height="9.5" fill="#289696"/><rect x="93.03" y="290" width="30.07" height="9.5" fill="#41be8c"/><rect x="34.3" y="298.8" width="30.07" height="9.5" fill="#6ecd78"/><rect x="63.67" y="298.8" width="30.07" height="9.5" fill="#3c7d9b"/><rect x="93.03" y="298.8" width="30.07" height="9.5" fill="#23a596"/><rect x="34.3" y="307.6" width="30.07" height="9.5" fill="#3c829b"/><rect x="63.67" y="307.6" width="30.07" height="9.5" fill="#5f1e78"/><rect x="93.03" y="307.6" width="30.07" height="9.5" fill="#465fa0"/></g>
<path d="M34.3 237.2 H122.4 M34.3 246 H122.4 M34.3 254.8 H122.4 M34.3 263.6 H122.4 M34.3 272.4 H122.4 M34.3 281.2 H122.4 M34.3 290 H122.4 M34.3 298.8 H122.4 M34.3 307.6 H122.4 M63.67 228.4 V316.4 M93.03 228.4 V316.4" stroke="#fff" stroke-opacity="0.16" stroke-width="0.6" fill="none"/>
<rect x="34.3" y="228.4" width="88.1" height="88" fill="none" stroke="#3a3a3a" stroke-width="0.9"/>
<path d="M29.3 232.8 H34.3 M29.3 241.6 H34.3 M29.3 250.4 H34.3 M29.3 259.2 H34.3 M29.3 268 H34.3 M29.3 276.8 H34.3 M29.3 285.6 H34.3 M29.3 294.4 H34.3 M29.3 303.2 H34.3 M29.3 312 H34.3 M48.98 316.4 V321.4 M78.35 316.4 V321.4 M107.72 316.4 V321.4" stroke="#555" stroke-width="0.9" fill="none"/>
<text transform="translate(53.18,331.2) rotate(-45)" font-size="9.2" text-anchor="end" fill="#222">6 hpi</text>
<text transform="translate(82.55,331.2) rotate(-45)" font-size="9.2" text-anchor="end" fill="#222">18 hpi</text>
<text transform="translate(111.92,331.2) rotate(-45)" font-size="9.2" text-anchor="end" fill="#222">36 hpi</text>
<text x="174.5" y="212.9" font-size="10.5" letter-spacing="0.1" text-anchor="middle" fill="#222">GD value</text>
<text x="174.5" y="224.8" font-size="10.5" letter-spacing="0.45" text-anchor="middle" fill="#222">liver–blood</text>
<g><rect x="129.3" y="229.3" width="29.8" height="9.41" fill="#b4de3c"/><rect x="158.4" y="229.3" width="29.8" height="9.41" fill="#b4de3c"/><rect x="187.5" y="229.3" width="29.8" height="9.41" fill="#e9d822"/><rect x="129.3" y="238.01" width="29.8" height="9.41" fill="#82d269"/><rect x="158.4" y="238.01" width="29.8" height="9.41" fill="#82d269"/><rect x="187.5" y="238.01" width="29.8" height="9.41" fill="#96d75a"/><rect x="129.3" y="246.72" width="29.8" height="9.41" fill="#7dd26e"/><rect x="158.4" y="246.72" width="29.8" height="9.41" fill="#7dd26e"/><rect x="187.5" y="246.72" width="29.8" height="9.41" fill="#78d06e"/><rect x="129.3" y="255.43" width="29.8" height="9.41" fill="#4bc387"/><rect x="158.4" y="255.43" width="29.8" height="9.41" fill="#4bc387"/><rect x="187.5" y="255.43" width="29.8" height="9.41" fill="#46c387"/><rect x="129.3" y="264.14" width="29.8" height="9.41" fill="#46c087"/><rect x="158.4" y="264.14" width="29.8" height="9.41" fill="#46c087"/><rect x="187.5" y="264.14" width="29.8" height="9.41" fill="#41be8a"/><rect x="129.3" y="272.85" width="29.8" height="9.41" fill="#37b991"/><rect x="158.4" y="272.85" width="29.8" height="9.41" fill="#37b991"/><rect x="187.5" y="272.85" width="29.8" height="9.41" fill="#23af96"/><rect x="129.3" y="281.56" width="29.8" height="9.41" fill="#1ea596"/><rect x="158.4" y="281.56" width="29.8" height="9.41" fill="#1ea596"/><rect x="187.5" y="281.56" width="29.8" height="9.41" fill="#23af96"/><rect x="129.3" y="290.27" width="29.8" height="9.41" fill="#1ea596"/><rect x="158.4" y="290.27" width="29.8" height="9.41" fill="#1ea596"/><rect x="187.5" y="290.27" width="29.8" height="9.41" fill="#32879b"/><rect x="129.3" y="298.98" width="29.8" height="9.41" fill="#1ea596"/><rect x="158.4" y="298.98" width="29.8" height="9.41" fill="#1ea596"/><rect x="187.5" y="298.98" width="29.8" height="9.41" fill="#3c789b"/><rect x="129.3" y="307.69" width="29.8" height="9.41" fill="#23a096"/><rect x="158.4" y="307.69" width="29.8" height="9.41" fill="#23a096"/><rect x="187.5" y="307.69" width="29.8" height="9.41" fill="#4b64a0"/></g>
<path d="M129.3 238.01 H216.6 M129.3 246.72 H216.6 M129.3 255.43 H216.6 M129.3 264.14 H216.6 M129.3 272.85 H216.6 M129.3 281.56 H216.6 M129.3 290.27 H216.6 M129.3 298.98 H216.6 M129.3 307.69 H216.6 M158.4 229.3 V316.4 M187.5 229.3 V316.4" stroke="#fff" stroke-opacity="0.16" stroke-width="0.6" fill="none"/>
<rect x="129.3" y="229.3" width="87.3" height="87.1" fill="none" stroke="#3a3a3a" stroke-width="0.9"/>
<path d="M124.3 233.66 H129.3 M124.3 242.37 H129.3 M124.3 251.07 H129.3 M124.3 259.79 H129.3 M124.3 268.5 H129.3 M124.3 277.2 H129.3 M124.3 285.91 H129.3 M124.3 294.62 H129.3 M124.3 303.33 H129.3 M124.3 312.04 H129.3 M143.85 316.4 V321.4 M172.95 316.4 V321.4 M202.05 316.4 V321.4" stroke="#555" stroke-width="0.9" fill="none"/>
<text transform="translate(148.05,331.2) rotate(-45)" font-size="9.2" text-anchor="end" fill="#222">6 hpi</text>
<text transform="translate(177.15,331.2) rotate(-45)" font-size="9.2" text-anchor="end" fill="#222">18 hpi</text>
<text transform="translate(206.25,331.2) rotate(-45)" font-size="9.2" text-anchor="end" fill="#222">36 hpi</text>
<text x="268.6" y="212.9" font-size="10.5" letter-spacing="0.1" text-anchor="middle" fill="#222">GD value</text>
<text x="268.6" y="224.8" font-size="10.5" letter-spacing="0.45" text-anchor="middle" fill="#222">spleen–blood</text>
<g><rect x="224.2" y="229.3" width="29.9" height="9.41" fill="#f6e520"/><rect x="253.4" y="229.3" width="29.9" height="9.41" fill="#e9d822"/><rect x="282.6" y="229.3" width="29.9" height="9.41" fill="#e1e41e"/><rect x="224.2" y="238.01" width="29.9" height="9.41" fill="#c3de37"/><rect x="253.4" y="238.01" width="29.9" height="9.41" fill="#9bd85a"/><rect x="282.6" y="238.01" width="29.9" height="9.41" fill="#b4de41"/><rect x="224.2" y="246.72" width="29.9" height="9.41" fill="#c3de37"/><rect x="253.4" y="246.72" width="29.9" height="9.41" fill="#82d469"/><rect x="282.6" y="246.72" width="29.9" height="9.41" fill="#b4de41"/><rect x="224.2" y="255.43" width="29.9" height="9.41" fill="#7dd26e"/><rect x="253.4" y="255.43" width="29.9" height="9.41" fill="#5fc87d"/><rect x="282.6" y="255.43" width="29.9" height="9.41" fill="#37b98c"/><rect x="224.2" y="264.14" width="29.9" height="9.41" fill="#5ac87d"/><rect x="253.4" y="264.14" width="29.9" height="9.41" fill="#23aa96"/><rect x="282.6" y="264.14" width="29.9" height="9.41" fill="#239b96"/><rect x="224.2" y="272.85" width="29.9" height="9.41" fill="#64ca78"/><rect x="253.4" y="272.85" width="29.9" height="9.41" fill="#23a596"/><rect x="282.6" y="272.85" width="29.9" height="9.41" fill="#2d8c9b"/><rect x="224.2" y="281.56" width="29.9" height="9.41" fill="#3cbe8c"/><rect x="253.4" y="281.56" width="29.9" height="9.41" fill="#28969b"/><rect x="282.6" y="281.56" width="29.9" height="9.41" fill="#377da0"/><rect x="224.2" y="290.27" width="29.9" height="9.41" fill="#32b991"/><rect x="253.4" y="290.27" width="29.9" height="9.41" fill="#2d8c9b"/><rect x="282.6" y="290.27" width="29.9" height="9.41" fill="#3c78a0"/><rect x="224.2" y="298.98" width="29.9" height="9.41" fill="#28b491"/><rect x="253.4" y="298.98" width="29.9" height="9.41" fill="#377d9b"/><rect x="282.6" y="298.98" width="29.9" height="9.41" fill="#4173a0"/><rect x="224.2" y="307.69" width="29.9" height="9.41" fill="#28af96"/><rect x="253.4" y="307.69" width="29.9" height="9.41" fill="#4664a0"/><rect x="282.6" y="307.69" width="29.9" height="9.41" fill="#55559b"/></g>
<path d="M224.2 238.01 H311.8 M224.2 246.72 H311.8 M224.2 255.43 H311.8 M224.2 264.14 H311.8 M224.2 272.85 H311.8 M224.2 281.56 H311.8 M224.2 290.27 H311.8 M224.2 298.98 H311.8 M224.2 307.69 H311.8 M253.4 229.3 V316.4 M282.6 229.3 V316.4" stroke="#fff" stroke-opacity="0.16" stroke-width="0.6" fill="none"/>
<rect x="224.2" y="229.3" width="87.6" height="87.1" fill="none" stroke="#3a3a3a" stroke-width="0.9"/>
<path d="M219.2 233.66 H224.2 M219.2 242.37 H224.2 M219.2 251.07 H224.2 M219.2 259.79 H224.2 M219.2 268.5 H224.2 M219.2 277.2 H224.2 M219.2 285.91 H224.2 M219.2 294.62 H224.2 M219.2 303.33 H224.2 M219.2 312.04 H224.2 M238.8 316.4 V321.4 M268 316.4 V321.4 M297.2 316.4 V321.4" stroke="#555" stroke-width="0.9" fill="none"/>
<text transform="translate(243,331.2) rotate(-45)" font-size="9.2" text-anchor="end" fill="#222">6 hpi</text>
<text transform="translate(272.2,331.2) rotate(-45)" font-size="9.2" text-anchor="end" fill="#222">18 hpi</text>
<text transform="translate(301.4,331.2) rotate(-45)" font-size="9.2" text-anchor="end" fill="#222">36 hpi</text>
<text x="362.7" y="212.9" font-size="10.5" letter-spacing="0.1" text-anchor="middle" fill="#222">GD value</text>
<text x="362.7" y="224.8" font-size="10.5" letter-spacing="0.45" text-anchor="middle" fill="#222">lung–blood</text>
<g><rect x="319.3" y="229.3" width="29.8" height="9.41" fill="#e9d822"/><rect x="348.4" y="229.3" width="29.8" height="9.41" fill="#e9d822"/><rect x="377.5" y="229.3" width="29.8" height="9.41" fill="#78d26e"/><rect x="319.3" y="238.01" width="29.8" height="9.41" fill="#a5da4b"/><rect x="348.4" y="238.01" width="29.8" height="9.41" fill="#2d879b"/><rect x="377.5" y="238.01" width="29.8" height="9.41" fill="#37be8c"/><rect x="319.3" y="246.72" width="29.8" height="9.41" fill="#239696"/><rect x="348.4" y="246.72" width="29.8" height="9.41" fill="#3c739b"/><rect x="377.5" y="246.72" width="29.8" height="9.41" fill="#1eaa96"/><rect x="319.3" y="255.43" width="29.8" height="9.41" fill="#239696"/><rect x="348.4" y="255.43" width="29.8" height="9.41" fill="#3c739b"/><rect x="377.5" y="255.43" width="29.8" height="9.41" fill="#1eaa96"/><rect x="319.3" y="264.14" width="29.8" height="9.41" fill="#289196"/><rect x="348.4" y="264.14" width="29.8" height="9.41" fill="#4664a0"/><rect x="377.5" y="264.14" width="29.8" height="9.41" fill="#239b96"/><rect x="319.3" y="272.85" width="29.8" height="9.41" fill="#377d9b"/><rect x="348.4" y="272.85" width="29.8" height="9.41" fill="#555096"/><rect x="377.5" y="272.85" width="29.8" height="9.41" fill="#23a096"/><rect x="319.3" y="281.56" width="29.8" height="9.41" fill="#377d9b"/><rect x="348.4" y="281.56" width="29.8" height="9.41" fill="#555096"/><rect x="377.5" y="281.56" width="29.8" height="9.41" fill="#2d8c9b"/><rect x="319.3" y="290.27" width="29.8" height="9.41" fill="#377d9b"/><rect x="348.4" y="290.27" width="29.8" height="9.41" fill="#554b96"/><rect x="377.5" y="290.27" width="29.8" height="9.41" fill="#377da0"/><rect x="319.3" y="298.98" width="29.8" height="9.41" fill="#3c73a0"/><rect x="348.4" y="298.98" width="29.8" height="9.41" fill="#5f3787"/><rect x="377.5" y="298.98" width="29.8" height="9.41" fill="#4664a0"/><rect x="319.3" y="307.69" width="29.8" height="9.41" fill="#4b5fa0"/><rect x="348.4" y="307.69" width="29.8" height="9.41" fill="#5f3287"/><rect x="377.5" y="307.69" width="29.8" height="9.41" fill="#5555a0"/></g>
<path d="M319.3 238.01 H406.6 M319.3 246.72 H406.6 M319.3 255.43 H406.6 M319.3 264.14 H406.6 M319.3 272.85 H406.6 M319.3 281.56 H406.6 M319.3 290.27 H406.6 M319.3 298.98 H406.6 M319.3 307.69 H406.6 M348.4 229.3 V316.4 M377.5 229.3 V316.4" stroke="#fff" stroke-opacity="0.16" stroke-width="0.6" fill="none"/>
<rect x="319.3" y="229.3" width="87.3" height="87.1" fill="none" stroke="#3a3a3a" stroke-width="0.9"/>
<path d="M314.3 233.66 H319.3 M314.3 242.37 H319.3 M314.3 251.07 H319.3 M314.3 259.79 H319.3 M314.3 268.5 H319.3 M314.3 277.2 H319.3 M314.3 285.91 H319.3 M314.3 294.62 H319.3 M314.3 303.33 H319.3 M314.3 312.04 H319.3 M333.85 316.4 V321.4 M362.95 316.4 V321.4 M392.05 316.4 V321.4" stroke="#555" stroke-width="0.9" fill="none"/>
<text transform="translate(338.05,331.2) rotate(-45)" font-size="9.2" text-anchor="end" fill="#222">6 hpi</text>
<text transform="translate(367.15,331.2) rotate(-45)" font-size="9.2" text-anchor="end" fill="#222">18 hpi</text>
<text transform="translate(396.25,331.2) rotate(-45)" font-size="9.2" text-anchor="end" fill="#222">36 hpi</text>
<text x="455.9" y="212.9" font-size="10.5" letter-spacing="0.1" text-anchor="middle" fill="#222">GD value</text>
<text x="455.9" y="224.8" font-size="10.5" letter-spacing="0.45" text-anchor="middle" fill="#222">kidney–blood</text>
<g><rect x="413.9" y="230.5" width="29.63" height="9.29" fill="#f6e520"/><rect x="442.83" y="230.5" width="29.63" height="9.29" fill="#e9d822"/><rect x="471.77" y="230.5" width="29.63" height="9.29" fill="#e9d822"/><rect x="413.9" y="239.09" width="29.63" height="9.29" fill="#d7e128"/><rect x="442.83" y="239.09" width="29.63" height="9.29" fill="#f6e520"/><rect x="471.77" y="239.09" width="29.63" height="9.29" fill="#e9d822"/><rect x="413.9" y="247.68" width="29.63" height="9.29" fill="#c3de37"/><rect x="442.83" y="247.68" width="29.63" height="9.29" fill="#e1e41e"/><rect x="471.77" y="247.68" width="29.63" height="9.29" fill="#b4de41"/><rect x="413.9" y="256.27" width="29.63" height="9.29" fill="#73d06e"/><rect x="442.83" y="256.27" width="29.63" height="9.29" fill="#28969b"/><rect x="471.77" y="256.27" width="29.63" height="9.29" fill="#46c382"/><rect x="413.9" y="264.86" width="29.63" height="9.29" fill="#73d06e"/><rect x="442.83" y="264.86" width="29.63" height="9.29" fill="#3c789b"/><rect x="471.77" y="264.86" width="29.63" height="9.29" fill="#28b491"/><rect x="413.9" y="273.45" width="29.63" height="9.29" fill="#73d06e"/><rect x="442.83" y="273.45" width="29.63" height="9.29" fill="#3c789b"/><rect x="471.77" y="273.45" width="29.63" height="9.29" fill="#1ea596"/><rect x="413.9" y="282.04" width="29.63" height="9.29" fill="#5ac87d"/><rect x="442.83" y="282.04" width="29.63" height="9.29" fill="#4b64a0"/><rect x="471.77" y="282.04" width="29.63" height="9.29" fill="#3c73a0"/><rect x="413.9" y="290.63" width="29.63" height="9.29" fill="#37b98c"/><rect x="442.83" y="290.63" width="29.63" height="9.29" fill="#505a9b"/><rect x="471.77" y="290.63" width="29.63" height="9.29" fill="#3c73a0"/><rect x="413.9" y="299.22" width="29.63" height="9.29" fill="#23aa96"/><rect x="442.83" y="299.22" width="29.63" height="9.29" fill="#5a4b96"/><rect x="471.77" y="299.22" width="29.63" height="9.29" fill="#55559b"/><rect x="413.9" y="307.81" width="29.63" height="9.29" fill="#23a096"/><rect x="442.83" y="307.81" width="29.63" height="9.29" fill="#5f3c8c"/><rect x="471.77" y="307.81" width="29.63" height="9.29" fill="#5a196e"/></g>
<path d="M413.9 239.09 H500.7 M413.9 247.68 H500.7 M413.9 256.27 H500.7 M413.9 264.86 H500.7 M413.9 273.45 H500.7 M413.9 282.04 H500.7 M413.9 290.63 H500.7 M413.9 299.22 H500.7 M413.9 307.81 H500.7 M442.83 230.5 V316.4 M471.77 230.5 V316.4" stroke="#fff" stroke-opacity="0.16" stroke-width="0.6" fill="none"/>
<rect x="413.9" y="230.5" width="86.8" height="85.9" fill="none" stroke="#3a3a3a" stroke-width="0.9"/>
<path d="M408.9 234.79 H413.9 M408.9 243.38 H413.9 M408.9 251.97 H413.9 M408.9 260.56 H413.9 M408.9 269.15 H413.9 M408.9 277.75 H413.9 M408.9 286.33 H413.9 M408.9 294.92 H413.9 M408.9 303.51 H413.9 M408.9 312.1 H413.9 M428.37 316.4 V321.4 M457.3 316.4 V321.4 M486.23 316.4 V321.4" stroke="#555" stroke-width="0.9" fill="none"/>
<text transform="translate(432.57,331.2) rotate(-45)" font-size="9.2" text-anchor="end" fill="#222">6 hpi</text>
<text transform="translate(461.5,331.2) rotate(-45)" font-size="9.2" text-anchor="end" fill="#222">18 hpi</text>
<text transform="translate(490.43,331.2) rotate(-45)" font-size="9.2" text-anchor="end" fill="#222">36 hpi</text>
<defs><linearGradient id="vir" x1="0" y1="1" x2="0" y2="0">
<stop offset="0.0" stop-color="#440154"/>
<stop offset="0.1" stop-color="#482374"/>
<stop offset="0.2" stop-color="#404387"/>
<stop offset="0.3" stop-color="#345e8d"/>
<stop offset="0.4" stop-color="#29788e"/>
<stop offset="0.5" stop-color="#20908c"/>
<stop offset="0.6" stop-color="#22a784"/>
<stop offset="0.7" stop-color="#44be70"/>
<stop offset="0.8" stop-color="#79d151"/>
<stop offset="0.9" stop-color="#bdde26"/>
<stop offset="1.0" stop-color="#fde724"/>
</linearGradient></defs>
<rect x="507.4" y="230.5" width="6.6" height="86.1" fill="url(#vir)" stroke="#333" stroke-width="0.6"/>
<text x="517.7" y="221.0" font-size="10.5" letter-spacing="0.2" text-anchor="middle" fill="#222">GD value</text>
<path d="M512.4 316.6 H514" stroke="#222" stroke-width="0.8"/>
<text x="518.6" y="319.7" font-size="8.9" letter-spacing="0.35" fill="#222">0</text>
<path d="M512.4 295.08 H514" stroke="#222" stroke-width="0.8"/>
<text x="518.6" y="298.18" font-size="8.9" letter-spacing="0.35" fill="#222">0.2</text>
<path d="M512.4 273.55 H514" stroke="#222" stroke-width="0.8"/>
<text x="518.6" y="276.65" font-size="8.9" letter-spacing="0.35" fill="#222">0.4</text>
<path d="M512.4 252.03 H514" stroke="#222" stroke-width="0.8"/>
<text x="518.6" y="255.12" font-size="8.9" letter-spacing="0.35" fill="#222">0.6</text>
<path d="M512.4 230.5 H514" stroke="#222" stroke-width="0.8"/>
<text x="518.6" y="233.6" font-size="8.9" letter-spacing="0.35" fill="#222">0.8</text>
<text x="543.0" y="193.8" font-size="14.5" font-weight="bold" fill="#000" stroke="#000" stroke-width="0.6">e</text>
<text x="630.3" y="193.6" font-size="10.0" letter-spacing="0.38" text-anchor="middle" fill="#222">Mouse 1, 36 hpi</text>
<path d="M589.7 198.6 V336.1 H670.5 V198.6 Z" fill="none" stroke="#555" stroke-width="0.9"/>
<path d="M584.3 330.6 H589.7 M584.3 299.15 H589.7 M584.3 267.7 H589.7 M584.3 236.25 H589.7 M584.3 204.8 H589.7 M597.15 336.1 V341.5 M610.25 336.1 V341.5 M623.15 336.1 V341.5 M636.15 336.1 V341.5 M649.25 336.1 V341.5 M662.35 336.1 V341.5" stroke="#555" stroke-width="0.9" fill="none"/>
<text x="579.6" y="334" font-size="9.5" text-anchor="end" fill="#222">0</text>
<text x="579.6" y="302.55" font-size="9.5" text-anchor="end" fill="#222">0.25</text>
<text x="579.6" y="271.1" font-size="9.5" text-anchor="end" fill="#222">0.50</text>
<text x="579.6" y="239.65" font-size="9.5" text-anchor="end" fill="#222">0.75</text>
<text x="579.6" y="208.2" font-size="9.5" text-anchor="end" fill="#222">1.00</text>
<text transform="translate(552.6,266.5) rotate(-90)" font-size="11.3" text-anchor="middle" fill="#222">Proportion</text>
<g><rect x="591.2" y="204.8" width="11.9" height="125.8" fill="#5ec2e8"/><rect x="604.3" y="204.8" width="11.9" height="1.6" fill="#a99432"/><rect x="604.3" y="206.4" width="11.9" height="44.7" fill="#c6b97f"/><rect x="604.3" y="251.1" width="11.9" height="15.6" fill="#93c9a2"/><rect x="604.3" y="266.7" width="11.9" height="3" fill="#b5dcea"/><rect x="604.3" y="269.7" width="11.9" height="1" fill="#93c9a2"/><rect x="604.3" y="270.7" width="11.9" height="2.1" fill="#a99432"/><rect x="604.3" y="272.8" width="11.9" height="7.7" fill="#e8993a"/><rect x="604.3" y="280.5" width="11.9" height="44.1" fill="#5ec2e8"/><rect x="604.3" y="324.6" width="11.9" height="0.7" fill="#f0b878"/><rect x="604.3" y="325.3" width="11.9" height="5.3" fill="#b7d7d6"/><rect x="617.2" y="204.8" width="11.9" height="2.4" fill="#a99432"/><rect x="617.2" y="207.2" width="11.9" height="0.8" fill="#e8993a"/><rect x="617.2" y="208" width="11.9" height="46.5" fill="#c6b97f"/><rect x="617.2" y="254.5" width="11.9" height="7.5" fill="#93c9a2"/><rect x="617.2" y="262" width="11.9" height="9.8" fill="#b5dcea"/><rect x="617.2" y="271.8" width="11.9" height="13.9" fill="#e8993a"/><rect x="617.2" y="285.7" width="11.9" height="17.6" fill="#5ec2e8"/><rect x="617.2" y="303.3" width="11.9" height="2.3" fill="#f0b878"/><rect x="617.2" y="305.6" width="11.9" height="25" fill="#b7d7d6"/><rect x="630.2" y="204.8" width="11.9" height="1.3" fill="#a99432"/><rect x="630.2" y="206.1" width="11.9" height="0.8" fill="#e8993a"/><rect x="630.2" y="206.9" width="11.9" height="61.4" fill="#c6b97f"/><rect x="630.2" y="268.3" width="11.9" height="5.4" fill="#93c9a2"/><rect x="630.2" y="273.7" width="11.9" height="9.3" fill="#b5dcea"/><rect x="630.2" y="283" width="11.9" height="1.6" fill="#93c9a2"/><rect x="630.2" y="284.6" width="11.9" height="0.6" fill="#b5dcea"/><rect x="630.2" y="285.2" width="11.9" height="5.2" fill="#a99432"/><rect x="630.2" y="290.4" width="11.9" height="9.8" fill="#e8993a"/><rect x="630.2" y="300.2" width="11.9" height="8.8" fill="#5ec2e8"/><rect x="630.2" y="309" width="11.9" height="2" fill="#f0b878"/><rect x="630.2" y="311" width="11.9" height="19.6" fill="#b7d7d6"/><rect x="643.3" y="204.8" width="11.9" height="26.8" fill="#c6b97f"/><rect x="643.3" y="231.6" width="11.9" height="80.4" fill="#93c9a2"/><rect x="643.3" y="312" width="11.9" height="1.7" fill="#b5dcea"/><rect x="643.3" y="313.7" width="11.9" height="2" fill="#e8993a"/><rect x="643.3" y="315.7" width="11.9" height="10.6" fill="#5ec2e8"/><rect x="643.3" y="326.3" width="11.9" height="4.3" fill="#b7d7d6"/><rect x="656.4" y="204.8" width="11.9" height="8.1" fill="#c6b97f"/><rect x="656.4" y="212.9" width="11.9" height="102.8" fill="#93c9a2"/><rect x="656.4" y="315.7" width="11.9" height="2.1" fill="#e8993a"/><rect x="656.4" y="317.8" width="11.9" height="10.2" fill="#5ec2e8"/><rect x="656.4" y="328" width="11.9" height="2.6" fill="#b7d7d6"/></g>
<text x="596.5" y="276.6" font-size="11.5" text-anchor="middle" fill="#111">*</text>
<text transform="translate(601.15,349.1) rotate(-45)" font-size="9.0" text-anchor="end" fill="#222">Brain</text>
<text transform="translate(613.45,351.1) rotate(-45)" font-size="9.0" text-anchor="end" fill="#222">Blood</text>
<text transform="translate(627.15,349.7) rotate(-45)" font-size="9.0" text-anchor="end" fill="#222">Spleen</text>
<text transform="translate(640.15,349.9) rotate(-45)" font-size="9.0" text-anchor="end" fill="#222">Liver</text>
<text transform="translate(653.25,350.1) rotate(-45)" font-size="9.0" text-anchor="end" fill="#222">Lung</text>
<text transform="translate(666.35,350.4) rotate(-45)" font-size="9.0" text-anchor="end" fill="#222">Kidney</text>
</svg>
</body></html>
